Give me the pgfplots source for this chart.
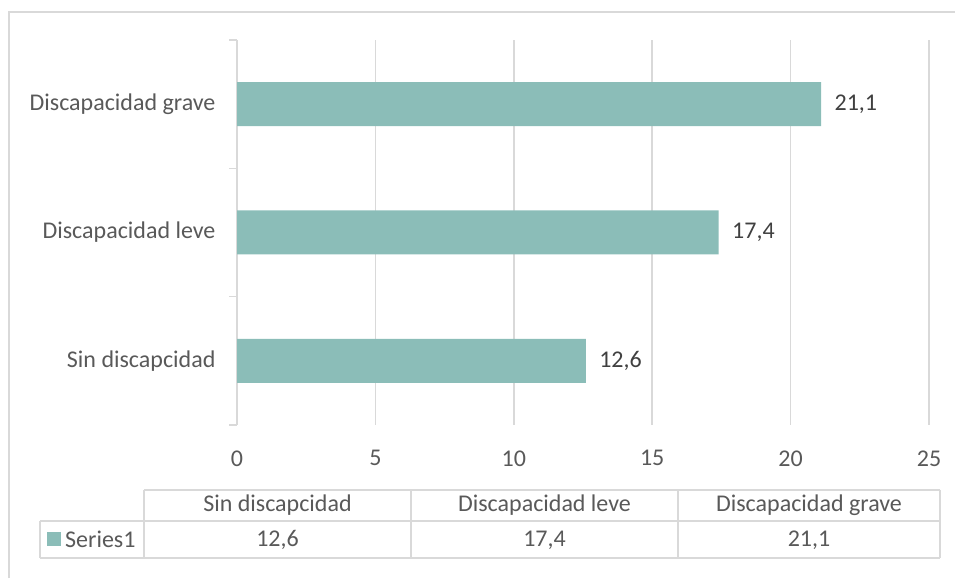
\documentclass[border=0pt]{standalone}
\usepackage{pgfplots}
\pgfplotsset{compat=1.18}
\usepackage{fontspec}
\setmainfont{Carlito}
\definecolor{barc}{HTML}{8BBDB8}
\definecolor{gridc}{HTML}{D9D9D9}
\definecolor{txt}{HTML}{595959}
\definecolor{lbl}{HTML}{404040}
\newcommand{\fs}{\fontsize{24}{28}\selectfont}
\begin{document}
\begin{tikzpicture}[x=1pt,y=1pt]
\useasboundingbox (0,0) rectangle (955,578);
% outer frame (left and top visible)
\draw[gridc, line width=1.5pt] (9,0) -- (9,566) -- (955,566);
\begin{axis}[
  at={(237pt,153pt)}, anchor=south west,
  scale only axis, width=692pt, height=385pt,
  xbar, bar width=44pt,
  xmin=0, xmax=25, ymin=-0.5, ymax=2.5,
  xtick={0,5,10,15,20,25},
  ytick={0,1,2},
  yticklabels={Sin discapcidad, Discapacidad leve, Discapacidad grave},
  minor ytick={-0.5,0.5,1.5,2.5},
  major tick length=0pt, minor tick length=8pt, tick align=outside,
  minor y tick style={gridc, line width=1.5pt},
  axis lines*=left,
  x axis line style={draw=none},
  y axis line style={gridc, line width=1.5pt},
  xmajorgrids, grid style={gridc, line width=1.5pt},
  tick label style={font=\fs, text=txt},
  /pgf/number format/assume math mode=true,
  xticklabel style={yshift=-22pt},
  yticklabel style={xshift=-18pt},
  nodes near coords,
  point meta=x,
  every node near coord/.append style={font=\fs, text=lbl, anchor=west, xshift=10pt,
    /pgf/number format/.cd, fixed, precision=1, fixed zerofill, use comma},
  clip=false,
]
\addplot[fill=barc, draw=none] coordinates {(12.6,0) (17.4,1) (21.1,2)};
\end{axis}
% data table
\begin{scope}[gridc, line width=1.5pt]
\draw (144,88) -- (940,88);
\draw (40,57) -- (940,57);
\draw (40,20) -- (940,20);
\draw (40,57) -- (40,20);
\draw (144,88) -- (144,20);
\draw (411,88) -- (411,20);
\draw (678,88) -- (678,20);
\draw (940,88) -- (940,20);
\end{scope}
\node[font=\fs, text=txt] at (277.5,73) {Sin discapcidad};
\node[font=\fs, text=txt] at (544.5,73) {Discapacidad leve};
\node[font=\fs, text=txt] at (809,73) {Discapacidad grave};
\fill[barc] (47,32) rectangle (61,46);
\node[font=\fs, text=txt, anchor=west, inner sep=0pt] at (65,38.5) {Series1};
\node[font=\fs, text=txt] at (277.5,38) {12,6};
\node[font=\fs, text=txt] at (544.5,38) {17,4};
\node[font=\fs, text=txt] at (809,38) {21,1};
\end{tikzpicture}
\end{document}
